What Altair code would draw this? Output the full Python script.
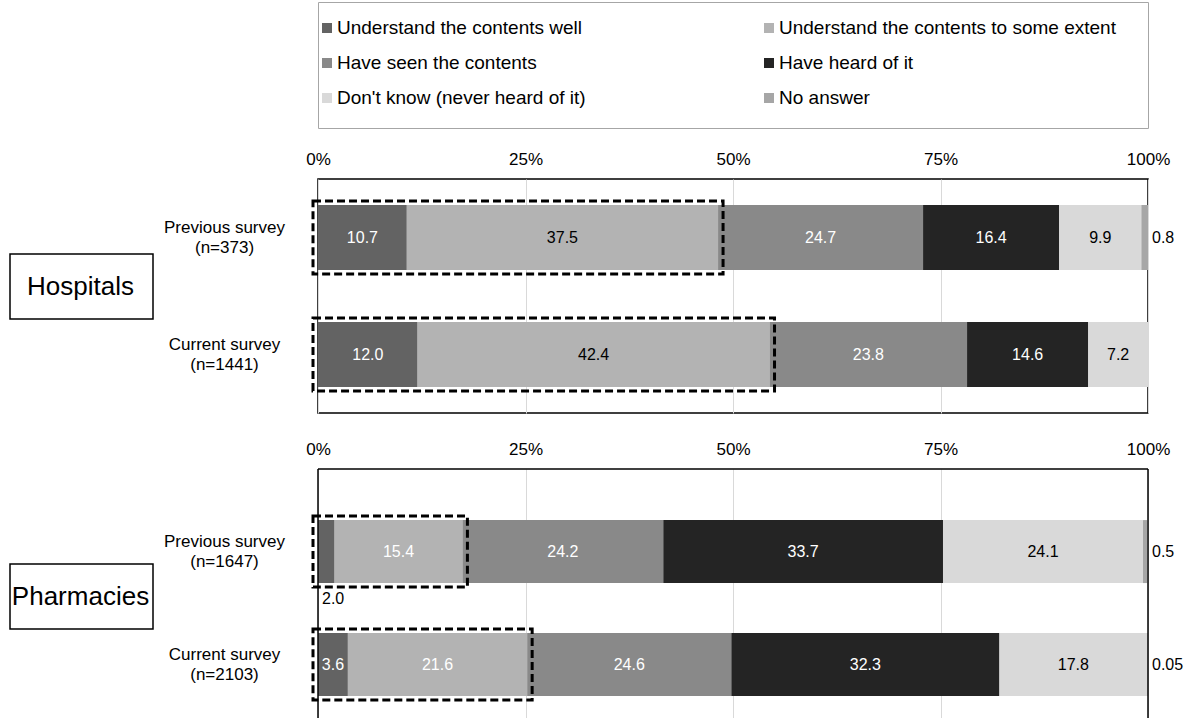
import altair as alt
import pandas as pd

# ---------------- data ----------------
categories = [
    "Understand the contents well",
    "Understand the contents to some extent",
    "Have seen the contents",
    "Have heard of it",
    "Don't know (never heard of it)",
    "No answer",
]
colors = ["#636363", "#b3b3b3", "#898989", "#242424", "#d9d9d9", "#a6a6a6"]

groups = ["Hospitals", "Pharmacies"]
hosp_rows = ["Previous survey|(n=373)", "Current survey|(n=1441)"]
hosp_prev = [10.7, 37.5, 24.7, 16.4, 9.9, 0.8]
hosp_cur = [12.0, 42.4, 23.8, 14.6, 7.2, 0.0]
pharm_rows = ["Previous survey|(n=1647)", "Current survey|(n=2103)"]
pharm_prev = [2.0, 15.4, 24.2, 33.7, 24.1, 0.5]
pharm_cur = [3.6, 21.6, 24.6, 32.3, 17.8, 0.05]
tick_values = [0, 25, 50, 75, 100]

# label text colours per category (style)
hosp_text = ["white", "black", "white", "white", "black", "black"]
pharm_text = ["white", "white", "white", "white", "black", "black"]

FONT = "Liberation Sans"
W = 830


def panel_df(rows, series, tcolors):
    recs = []
    for r, vals in zip(rows, series):
        start = 0.0
        for i, (c, v) in enumerate(zip(categories, vals)):
            end = start + v
            lab = f"{v:.2f}" if v < 0.1 else f"{v:.1f}"
            if v == 0:
                place = "none"
            elif i == len(categories) - 1:
                place = "right"
            elif v < 3:
                place = "below"
            else:
                place = "inside"
            recs.append(dict(row=r, cat=c, order=i, start=start, end=end,
                             mid=(start + end) / 2, value=v, label=lab,
                             place=place, tcolor=tcolors[i]))
            start = end
    return pd.DataFrame(recs)


def box_df(rows, series):
    return pd.DataFrame({"row": rows, "start": [0.0, 0.0],
                         "end": [s[0] + s[1] for s in series]})


color_scale = alt.Scale(domain=categories, range=colors)


def panel(rows, series, tcolors, group, H, pin, pout, align, box_y, framed):
    df = panel_df(rows, series, tcolors)
    bdf = box_df(rows, series)
    yscale = alt.Scale(domain=rows, paddingInner=pin, paddingOuter=pout, align=align)
    yenc = alt.Y("row:N", sort=rows, scale=yscale,
                 axis=alt.Axis(title=None, domain=False, ticks=False, tickSize=0,
                               labelExpr="split(datum.label, '|')",
                               labelAlign="center", labelBaseline="middle",
                               labelPadding=94, labelFontSize=17,
                               labelLineHeight=20, labelOffset=-10, labelLimit=0,
                               labelColor="black", labelFont=FONT))
    bars = alt.Chart(df).transform_filter("datum.value > 0").mark_bar().encode(
        x=alt.X("start:Q", scale=alt.Scale(domain=[0, 100], nice=False),
                axis=alt.Axis(orient="top", values=tick_values,
                              labelExpr="datum.value + '%'", grid=True,
                              gridColor="#d9d9d9", gridWidth=1, domain=False,
                              ticks=False, labelPadding=11, labelFontSize=17,
                              labelFlush=False,
                              labelColor="black", labelFont=FONT, title=None)),
        x2="end:Q",
        y=yenc,
        color=alt.Color("cat:N", scale=color_scale, legend=None),
    )
    bandw = H / (2 - pin + 2 * pout) * (1 - pin)
    dashed = alt.Chart(bdf).mark_bar(
        height=bandw + 8, fill="transparent", stroke="black", strokeWidth=3,
        strokeDash=[8, 4], xOffset=-5, x2Offset=5,
    ).encode(x="start:Q", x2="end:Q", y=alt.Y("row:N", sort=rows))
    inside = alt.Chart(df).transform_filter("datum.place == 'inside'").mark_text(
        fontSize=16, font=FONT).encode(
        x="mid:Q", y=alt.Y("row:N", sort=rows), text="label:N",
        color=alt.Color("tcolor:N", scale=None))
    below = alt.Chart(df).transform_filter("datum.place == 'below'").mark_text(
        fontSize=16, font=FONT, align="left", dx=4, dy=47, color="black").encode(
        x="start:Q", y=alt.Y("row:N", sort=rows), text="label:N")
    right = alt.Chart(df).transform_filter("datum.place == 'right'").mark_text(
        fontSize=16, font=FONT, align="left", dx=4, color="black").encode(
        x=alt.datum(100), y=alt.Y("row:N", sort=rows), text="label:N")
    gdf = pd.DataFrame({"group": [group]})
    gbox = alt.Chart(gdf).mark_rect(fill="white", stroke="black", strokeWidth=1.5).encode(
        x=alt.value(-308), x2=alt.value(-165),
        y=alt.value(box_y), y2=alt.value(box_y + 65))
    gtext = alt.Chart(gdf).mark_text(fontSize=26, font=FONT, color="black").encode(
        x=alt.value(-237.5), y=alt.value(box_y + 33), text="group:N")
    layers = [bars, dashed, inside, below, right, gbox, gtext]
    if framed:
        view = alt.ViewBackground(stroke="black", strokeWidth=1.5)
    else:
        view = alt.ViewBackground(stroke="transparent")
        fdf = pd.DataFrame({"k": [0]})
        top = alt.Chart(fdf).mark_rule(color="black", strokeWidth=1.5).encode(
            x=alt.value(0), x2=alt.value(W), y=alt.value(0))
        left = alt.Chart(fdf).mark_rule(color="black", strokeWidth=1.5).encode(
            x=alt.value(0), y=alt.value(0), y2=alt.value(H))
        rightl = alt.Chart(fdf).mark_rule(color="black", strokeWidth=1.5).encode(
            x=alt.value(W), y=alt.value(0), y2=alt.value(H))
        layers += [top, left, rightl]
    return alt.layer(*layers).properties(width=W, height=H, view=view)


hosp = panel(hosp_rows, [hosp_prev, hosp_cur], hosp_text, groups[0],
             234, 0.4444, 0.2222, 0.5, 75, True)
pharm = panel(pharm_rows, [pharm_prev, pharm_cur], pharm_text, groups[1],
              250, 0.4425, 0.3275, 0.69, 95, False)

# ---------------- legend panel ----------------
leg = pd.DataFrame({"cat": categories,
                    "col": [i % 2 for i in range(len(categories))],
                    "r": [i // 2 for i in range(len(categories))]})
lx = alt.X("col:Q", scale=alt.Scale(domain=[0, 1], range=[9, 451]), axis=None)
ly = alt.Y("r:Q", scale=alt.Scale(domain=[0, 2], range=[26, 96]), axis=None)
leg_sym = alt.Chart(leg).mark_square(size=100, opacity=1).encode(
    x=lx, y=ly, color=alt.Color("cat:N", scale=color_scale, legend=None))
leg_txt = alt.Chart(leg).mark_text(align="left", dx=10, fontSize=19, font=FONT,
                                   color="black").encode(x=lx, y=ly, text="cat:N")
legend_panel = alt.layer(leg_sym, leg_txt).properties(
    width=W, height=126, view=alt.ViewBackground(stroke="#a6a6a6", strokeWidth=1))

inner = alt.vconcat(hosp, pharm, spacing=56, bounds="flush")
chart = alt.vconcat(legend_panel, inner, spacing=51, bounds="flush").properties(
    padding={"left": 8, "top": 1, "right": 5, "bottom": 0},
    background="white",
).configure(font=FONT)

chart.save("out.html", embed_options={"renderer": "svg", "actions": False})
